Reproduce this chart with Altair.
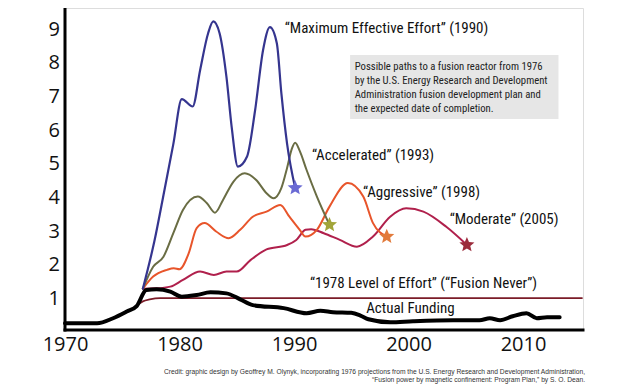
import altair as alt
import pandas as pd

# ---------------- data ----------------
max_years = [1976.8, 1977.8, 1978.7, 1979.46, 1980.2, 1981.15, 1981.8, 1982.5, 1982.95, 1983.5,
             1984.1, 1984.56, 1985.1, 1985.9, 1986.6, 1987.3, 1987.9, 1988.5, 1988.9, 1989.4, 1990.1]
max_vals = [1.3, 2.7, 4.26, 5.6, 6.94, 6.72, 7.8, 8.9, 9.25, 8.9,
            7.6, 6.1, 4.93, 5.23, 6.6, 8.4, 9.08, 8.6, 7.1, 5.6, 4.3]

acc_years = [1976.8, 1977.7, 1978.6, 1979.46, 1980.3, 1981.6, 1982.4, 1983.1, 1983.8, 1984.7,
             1985.7, 1986.7, 1987.6, 1988.2, 1988.9, 1989.4, 1989.8, 1990.1, 1990.5, 1991.1,
             1992.0, 1993.1]
acc_vals = [1.3, 1.95, 2.25, 2.95, 3.64, 4.04, 3.84, 3.56, 3.94, 4.48,
            4.73, 4.53, 4.14, 3.99, 4.3, 4.9, 5.45, 5.64, 5.4, 4.83,
            4.04, 3.2]

agg_years = [1976.8, 1977.7, 1978.9, 1979.5, 1980.0, 1980.8, 1981.5, 1982.2, 1983.2, 1984.3,
             1985.3, 1986.4, 1987.6, 1988.8, 1989.6, 1990.5, 1991.0, 1992.0, 1993.1, 1994.7,
             1996.05, 1996.9, 1998.1]
agg_vals = [1.3, 1.66, 1.86, 1.91, 1.88, 2.35, 3.1, 3.25, 3.0, 2.8,
            3.05, 3.44, 3.59, 3.79, 3.44, 3.05, 2.85, 3.05, 3.74, 4.44,
            4.04, 3.25, 2.85]

mod_years = [1976.8, 1978.0, 1979.2, 1980.3, 1981.8, 1983.0, 1984.1, 1985.0, 1986.2, 1987.6,
             1989.4, 1990.2, 1991.0, 1991.5, 1992.6, 1994.0, 1995.5, 1996.9, 1998.4, 1999.8,
             2001.3, 2003.3, 2005.1]
mod_vals = [1.3, 1.31, 1.36, 1.56, 1.81, 1.71, 1.81, 1.81, 2.15, 2.47,
            2.6, 2.75, 3.05, 3.07, 2.95, 2.75, 2.55, 2.85, 3.44, 3.69,
            3.59, 3.14, 2.6]

lvl_years = [1976.26, 1976.8, 1977.4, 1978.3, 2015.15]
lvl_vals = [0.8, 0.92, 0.98, 1.02, 1.02]

fund_years = [1970.0, 1972.8, 1974.2, 1975.4, 1976.26, 1977.1, 1978.0, 1979.2, 1980.2, 1981.5,
              1982.7, 1984.1, 1985.3, 1986.4, 1989.1, 1991.1, 1992.3, 1993.4, 1995.0, 1995.8,
              1996.5, 1998.4, 2000.4, 2003.9, 2006.2, 2007.1, 2008.0, 2009.1, 2010.3, 2011.2,
              2012.1, 2013.2]
fund_vals = [0.27, 0.27, 0.42, 0.62, 0.78, 1.26, 1.28, 1.21, 1.06, 1.11,
             1.19, 1.16, 0.98, 0.81, 0.72, 0.57, 0.64, 0.6, 0.58, 0.5,
             0.39, 0.3, 0.33, 0.36, 0.36, 0.42, 0.36, 0.48, 0.57, 0.42,
             0.45, 0.45]

star_years = [1990.1, 1993.1, 1998.1, 2005.1]
star_vals = [4.3, 3.2, 2.85, 2.6]
star_colors = ["#6a6ad4", "#a2a53a", "#e27b3c", "#9c2c3c"]

x_ticks = [1970, 1980, 1990, 2000, 2010]
y_ticks = [1, 2, 3, 4, 5, 6, 7, 8, 9]

label_texts = ["\u201cMaximum Effective Effort\u201d (1990)",
               "\u201cAccelerated\u201d (1993)",
               "\u201cAggressive\u201d (1998)",
               "\u201cModerate\u201d (2005)",
               "\u201c1978 Level of Effort\u201d (\u201cFusion Never\u201d)",
               "Actual Funding"]
label_years = [1989.2, 1991.57, 1996.03, 2003.6, 1991.4, 1996.3]
label_vals = [9.06, 5.28, 4.18, 3.37, 1.47, 0.72]

box_text = ("Possible paths to a fusion reactor from 1976\n"
            "by the U.S. Energy Research and Development\n"
            "Administration fusion development plan and\n"
            "the expected date of completion.")
credit_text = ("Credit: graphic design by Geoffrey M. Olynyk, incorporating 1976 projections from the U.S. Energy Research and Development Administration,\n"
               "\u201cFusion power by magnetic confinement: Program Plan,\u201d by S. O. Dean.")

# ---------------- layout / style ----------------
W, H = 518, 322
X_DOM = [1970, 2015.24]
Y_DOM = [0.07, 9.65]
NARROW = "Roboto Condensed, DejaVu Sans Condensed, sans-serif"
xs = alt.Scale(domain=X_DOM, nice=False, zero=False)
ys = alt.Scale(domain=Y_DOM, nice=False, zero=False)

x_axis = alt.Axis(values=x_ticks, format="d", title=None, grid=False, ticks=False, domain=False,
                  labelFontSize=20, labelColor="#111",
                  labelFont="Open Sans", labelPadding=4, labelFlush=False)
y_axis = None


def xy(xf="year", yf="value"):
    return dict(x=alt.X(f"{xf}:Q", scale=xs, axis=x_axis),
                y=alt.Y(f"{yf}:Q", scale=ys, axis=y_axis))


series = [
    (lvl_years, lvl_vals, "#7b1c28", 1.8),
    (mod_years, mod_vals, "#b0204c", 2.0),
    (agg_years, agg_vals, "#e8552b", 2.0),
    (acc_years, acc_vals, "#6a6d44", 2.0),
    (max_years, max_vals, "#35358f", 2.2),
    (fund_years, fund_vals, "#000000", 4.0),
]

layers = []

# text box background
box_df = pd.DataFrame({"x1": [1994.9], "x2": [2013.1], "y1": [6.35], "y2": [8.25]})
layers.append(alt.Chart(box_df).mark_rect(color="#e6e6e6").encode(
    x=alt.X("x1:Q", scale=xs, axis=x_axis), x2="x2:Q",
    y=alt.Y("y1:Q", scale=ys, axis=y_axis), y2="y2:Q"))

# axis lines along the scale domains
ax_df = pd.DataFrame({"x1": [X_DOM[0], X_DOM[0]], "x2": [X_DOM[1], X_DOM[0]],
                      "y1": [Y_DOM[0], Y_DOM[0]], "y2": [Y_DOM[0], Y_DOM[1]]})
layers.append(alt.Chart(ax_df).mark_rule(color="#000", strokeWidth=3, strokeCap="square").encode(
    x=alt.X("x1:Q", scale=xs, axis=x_axis), x2="x2:Q",
    y=alt.Y("y1:Q", scale=ys, axis=y_axis), y2="y2:Q"))

for yrs, vals, col, sw in series:
    df = pd.DataFrame({"year": yrs, "value": vals, "o": range(len(yrs))})
    layers.append(alt.Chart(df).mark_line(color=col, strokeWidth=sw, interpolate="monotone",
                                          strokeCap="round", strokeJoin="round").encode(
        order="o:Q", **xy()))

STAR = ("M0,-1L0.265,-0.364L0.951,-0.309L0.428,0.139L0.588,0.809L0,0.45"
        "L-0.588,0.809L-0.428,0.139L-0.951,-0.309L-0.265,-0.364Z")
star_df = pd.DataFrame({"year": star_years, "value": star_vals, "c": star_colors})
layers.append(alt.Chart(star_df).mark_point(shape=STAR, filled=True, size=250, opacity=1).encode(
    color=alt.Color("c:N", scale=None), **xy()))

# y-axis tick labels drawn as text just left of the vertical axis line
yl_df = pd.DataFrame({"year": [X_DOM[0]] * len(y_ticks), "value": y_ticks,
                      "t": [str(v) for v in y_ticks]})
layers.append(alt.Chart(yl_df).mark_text(align="right", baseline="middle", font="Open Sans",
                                         fontSize=20, color="#111", dx=-5).encode(
    text="t:N", **xy()))

lab_df = pd.DataFrame({"year": label_years, "value": label_vals, "t": label_texts})
layers.append(alt.Chart(lab_df).mark_text(align="left", baseline="middle", font=NARROW,
                                          fontSize=15, color="#111").encode(
    text="t:N", **xy()))

bt_df = pd.DataFrame({"year": [1995.3], "value": [7.9], "t": [box_text]})
layers.append(alt.Chart(bt_df).mark_text(align="left", baseline="middle", font=NARROW,
                                         fontSize=10.7, lineHeight=14, lineBreak="\n",
                                         color="#222").encode(text="t:N", **xy()))

cr_df = pd.DataFrame({"t": [credit_text]})
layers.append(alt.Chart(cr_df).mark_text(align="right", baseline="middle", font="Liberation Sans",
                                         fontSize=6.7, lineHeight=8, lineBreak="\n",
                                         color="#333").encode(
    text="t:N", x=alt.value(520), y=alt.value(364)))

chart = alt.layer(*layers).properties(
    width=W, height=H,
    padding={"left": 57, "top": 0, "right": 51, "bottom": 54},
    autosize=alt.AutoSizeParams(type="none"),
).configure_view(stroke=None).configure(background="white")

chart.save("out.html", embed_options={"renderer": "svg", "actions": False})
